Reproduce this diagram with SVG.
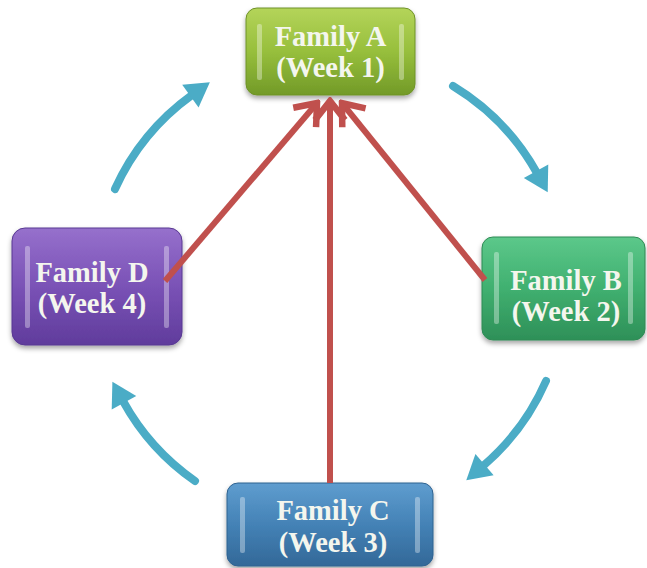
<svg xmlns="http://www.w3.org/2000/svg" width="647" height="568" viewBox="0 0 647 568">
<style>
.lbl{font-family:"Liberation Serif","Times New Roman",serif;font-weight:bold;font-size:28.5px;fill:#f4f6ee;text-anchor:middle}
.cyan{fill:none;stroke:#4bacc6;stroke-width:8;stroke-linecap:round}
.red{fill:none;stroke:#c0504d;stroke-width:6}
.hl{fill:#ffffff;fill-opacity:0.35}
</style>
<defs>
<filter id="sh" x="-20%" y="-20%" width="140%" height="150%"><feDropShadow dx="0" dy="3" stdDeviation="2.5" flood-color="#000" flood-opacity="0.35"/></filter>
<linearGradient id="gA" x1="0" y1="0" x2="0" y2="1"><stop offset="0" stop-color="#b4d45a"/><stop offset="0.5" stop-color="#97bf3c"/><stop offset="1" stop-color="#729a28"/></linearGradient>
<linearGradient id="gB" x1="0" y1="0" x2="0" y2="1"><stop offset="0" stop-color="#5cc88a"/><stop offset="0.5" stop-color="#40b070"/><stop offset="1" stop-color="#2e9058"/></linearGradient>
<linearGradient id="gC" x1="0" y1="0" x2="0" y2="1"><stop offset="0" stop-color="#5f9dcf"/><stop offset="0.5" stop-color="#4482b6"/><stop offset="1" stop-color="#336898"/></linearGradient>
<linearGradient id="gD" x1="0" y1="0" x2="0" y2="1"><stop offset="0" stop-color="#9670cc"/><stop offset="0.5" stop-color="#7a52b6"/><stop offset="1" stop-color="#603c9c"/></linearGradient>
<marker id="ca" markerUnits="userSpaceOnUse" viewBox="-2 -16 30 32" markerWidth="30" markerHeight="32" refX="2" refY="0" orient="auto"><path d="M0,-14 L24,0 L0,14 Z" fill="#4bacc6"/></marker>
<marker id="ra" markerUnits="userSpaceOnUse" viewBox="-24 -20 28 40" markerWidth="28" markerHeight="40" refX="0" refY="0" orient="auto"><path d="M-19,-15 L0,0 L-19,15" fill="none" stroke="#c0504d" stroke-width="6.5" stroke-linejoin="miter"/></marker>
</defs>
<g id="nodeA">
<rect x="246" y="8" width="169" height="87" rx="11" fill="url(#gA)" stroke="#6f9228" stroke-width="1" filter="url(#sh)"/>
<rect class="hl" x="257" y="24" width="5" height="56" rx="2"/>
<rect class="hl" x="399" y="24" width="5" height="56" rx="2"/>
<text class="lbl" x="330.5" y="46">Family A</text>
<text class="lbl" x="330.5" y="77">(Week 1)</text>
</g>
<g id="nodeB">
<rect x="482" y="237" width="163" height="103" rx="11" fill="url(#gB)" stroke="#2f8a55" stroke-width="1" filter="url(#sh)"/>
<rect class="hl" x="494" y="252" width="5" height="72" rx="2"/>
<rect class="hl" x="628" y="252" width="5" height="72" rx="2"/>
<text class="lbl" x="566" y="290">Family B</text>
<text class="lbl" x="566" y="321">(Week 2)</text>
</g>
<g id="nodeC">
<rect x="227" y="483" width="206" height="83" rx="11" fill="url(#gC)" stroke="#2f6290" stroke-width="1" filter="url(#sh)"/>
<rect class="hl" x="240" y="497" width="5" height="56" rx="2"/>
<rect class="hl" x="415" y="497" width="5" height="56" rx="2"/>
<text class="lbl" x="333" y="520">Family C</text>
<text class="lbl" x="333" y="552">(Week 3)</text>
</g>
<g id="nodeD">
<rect x="12" y="228" width="170" height="117" rx="13" fill="url(#gD)" stroke="#583892" stroke-width="1" filter="url(#sh)"/>
<rect class="hl" x="25" y="246" width="5" height="82" rx="2"/>
<rect class="hl" x="164" y="246" width="5" height="82" rx="2"/>
<text class="lbl" x="92" y="282">Family D</text>
<text class="lbl" x="92" y="313">(Week 4)</text>
</g>
<g id="connectors">
<path class="cyan" d="M115,189 A236,236 0 0 1 192,95" marker-end="url(#ca)"/>
<path class="cyan" d="M453,86 A236,236 0 0 1 537,173" marker-end="url(#ca)"/>
<path class="cyan" d="M546,381 A236,236 0 0 1 483,466" marker-end="url(#ca)"/>
<path class="cyan" d="M195,481 A236,236 0 0 1 123,401" marker-end="url(#ca)"/>
<path class="red" d="M165,281 L317,103" marker-end="url(#ra)"/>
<path class="red" d="M330,483 L330,101" marker-end="url(#ra)"/>
<path class="red" d="M485,280 L342,103" marker-end="url(#ra)"/>
</g>
</svg>
